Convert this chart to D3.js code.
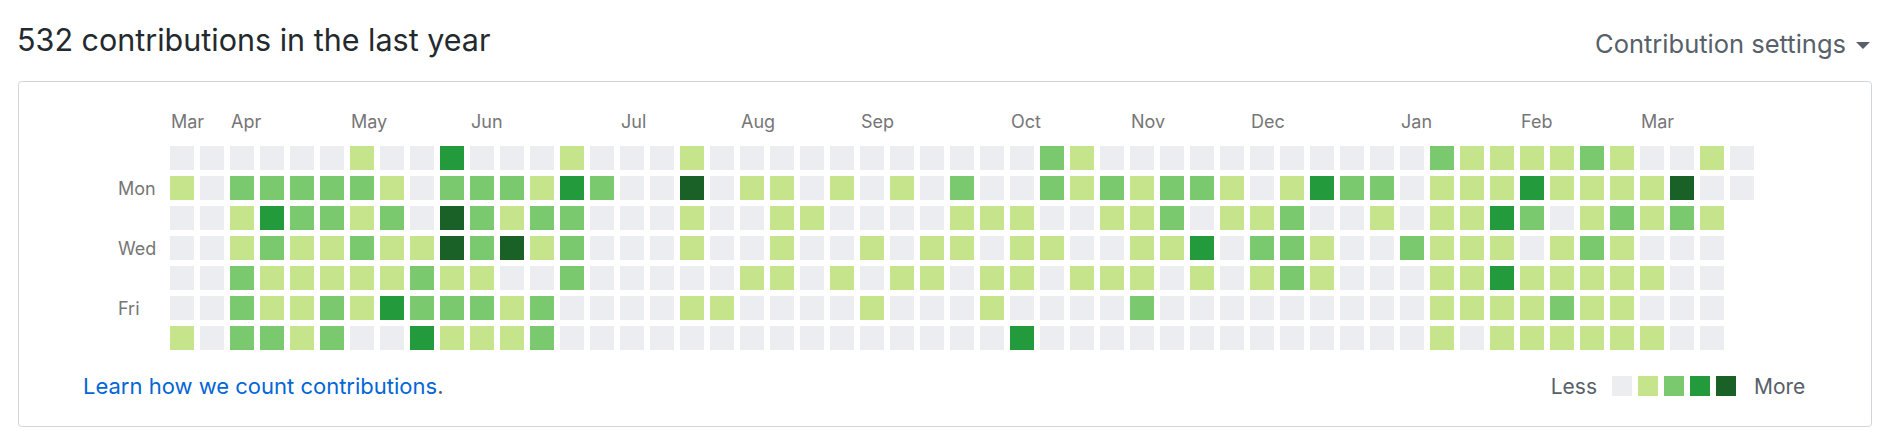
<!DOCTYPE html>
<html>
<head>
<meta charset="utf-8">
<script src="https://cdn.jsdelivr.net/npm/d3@7"></script>
<style>
  html, body { margin: 0; padding: 0; background: #fff; }
  svg { display: block; font-family: Inter, "Noto Sans", sans-serif; }
</style>
</head>
<body>
<svg id="chart" width="1896" height="448"></svg>
<script>
// ---- data ----
const titleText = "532 contributions in the last year";
const settingsText = "Contribution settings";
const linkText = "Learn how we count contributions";
const weekdays = ["Sun", "Mon", "Tue", "Wed", "Thu", "Fri", "Sat"];
const dayLabels = [{day: "Mon", row: 1}, {day: "Wed", row: 3}, {day: "Fri", row: 5}];
const monthLabels = [
  {m: "Mar", week: 0}, {m: "Apr", week: 2}, {m: "May", week: 6}, {m: "Jun", week: 10},
  {m: "Jul", week: 15}, {m: "Aug", week: 19}, {m: "Sep", week: 23}, {m: "Oct", week: 28},
  {m: "Nov", week: 32}, {m: "Dec", week: 36}, {m: "Jan", week: 41}, {m: "Feb", week: 45},
  {m: "Mar", week: 49}
];
// contribution level (0-4) per week, one array per weekday; null = future day
const sun = [0,0,0,0,0,0,1,0,0,3,0,0,0,1,0,0,0,1,0,0,0,0,0,0,0,0,0,0,0,2,1,0,0,0,0,0,0,0,0,0,0,0,2,1,1,1,1,2,1,0,0,1,0];
const mon = [1,0,2,2,2,2,2,1,0,2,2,2,1,3,2,0,0,4,0,1,1,0,1,0,1,0,2,0,0,2,1,2,1,2,2,1,0,1,3,2,2,0,1,1,1,3,1,1,1,1,4,0,0];
const tue = [0,0,1,3,2,2,1,2,0,4,2,1,2,2,0,0,0,1,0,0,1,1,0,0,0,0,1,1,1,0,0,1,1,2,0,1,1,2,0,0,1,0,1,1,3,2,0,1,2,1,2,1,null];
const wed = [0,0,1,2,1,1,2,1,1,4,2,4,1,2,0,0,0,1,0,0,1,0,0,1,0,1,1,0,1,1,0,0,1,1,3,0,2,2,1,0,0,2,1,1,1,0,1,2,1,0,0,0,null];
const thu = [0,0,2,1,1,1,1,1,2,1,1,0,0,2,0,0,0,0,0,1,1,0,1,0,1,1,0,1,1,0,1,1,1,0,1,0,1,2,1,0,0,0,1,1,3,1,1,1,1,1,0,0,null];
const fri = [0,0,2,1,1,2,1,3,2,2,2,1,2,0,0,0,0,1,1,0,0,0,0,1,0,0,0,1,0,0,0,0,2,0,0,0,0,0,0,0,0,0,1,1,1,1,2,1,1,0,0,0,null];
const sat = [1,0,2,2,1,2,0,0,3,1,1,1,2,0,0,0,0,0,0,0,0,0,0,0,0,0,0,0,3,0,0,0,0,0,0,0,0,0,0,0,0,0,1,0,1,1,1,1,1,1,0,0,null];
const levels = [0, 1, 2, 3, 4];
const levelColors = ["#ebedf0", "#c6e48b", "#7bc96f", "#239a3b", "#196127"];

// ---- build ----
const rowsData = [sun, mon, tue, wed, thu, fri, sat];
const nWeeks = sun.length;
const cells = [];
rowsData.forEach((arr, r) => arr.forEach((v, w) => { if (v !== null) cells.push({w, r, v}); }));

const svg = d3.select("#chart");

// outer box
svg.append("rect")
  .attr("x", 18.5).attr("y", 81.5)
  .attr("width", 1853).attr("height", 345)
  .attr("rx", 3).attr("fill", "#fff")
  .attr("stroke", "#d1d5da").attr("stroke-width", 1);

// title
svg.append("text")
  .attr("x", 17).attr("y", 51)
  .attr("fill", "#24292e")
  .style("font-size", "30.5px")
  .text(titleText);

// settings
svg.append("text")
  .attr("x", 1846).attr("y", 53)
  .attr("text-anchor", "end")
  .attr("fill", "#586069")
  .style("font-size", "25.5px")
  .text(settingsText);
svg.append("path")
  .attr("d", "M1856,42 L1870,42 L1863,49 Z")
  .attr("fill", "#586069");

// scales
const x = d3.scaleBand().domain(d3.range(nWeeks)).range([170, 170 + nWeeks * 30 - 6]).paddingInner(0.2);
const y = d3.scaleBand().domain(d3.range(7)).range([146, 146 + 7 * 30 - 6]).paddingInner(0.2);
const color = d3.scaleOrdinal().domain(levels).range(levelColors);

// cells
svg.append("g").selectAll("rect").data(cells).join("rect")
  .attr("x", d => x(d.w)).attr("y", d => y(d.r))
  .attr("width", x.bandwidth()).attr("height", y.bandwidth())
  .attr("fill", d => color(d.v));

// month labels
svg.append("g").selectAll("text").data(monthLabels).join("text")
  .attr("x", d => x(d.week) + 1).attr("y", 128)
  .attr("fill", "#767676")
  .style("font-size", "18px")
  .text(d => d.m);

// day labels
svg.append("g").selectAll("text").data(dayLabels).join("text")
  .attr("x", 118).attr("y", d => y(d.row) + y.bandwidth() / 2 + 7)
  .attr("fill", "#767676")
  .style("font-size", "18px")
  .text(d => d.day);

// link
const lk = svg.append("text").attr("x", 83).attr("y", 394).style("font-size", "22px");
lk.append("tspan").attr("fill", "#0366d6").text(linkText);
lk.append("tspan").attr("fill", "#586069").text(".");

// legend
const lx = d3.scaleBand().domain(levels).range([1612, 1612 + 5 * 26 - 6]).paddingInner(6 / 26);
svg.append("text").attr("x", 1597).attr("y", 394).attr("text-anchor", "end")
  .attr("fill", "#586069").style("font-size", "21px").text("Less");
svg.append("g").selectAll("rect").data(levels).join("rect")
  .attr("x", d => lx(d)).attr("y", 376)
  .attr("width", lx.bandwidth()).attr("height", lx.bandwidth())
  .attr("fill", d => color(d));
svg.append("text").attr("x", 1754).attr("y", 394)
  .attr("fill", "#586069").style("font-size", "21px").text("More");
</script>
</body>
</html>
